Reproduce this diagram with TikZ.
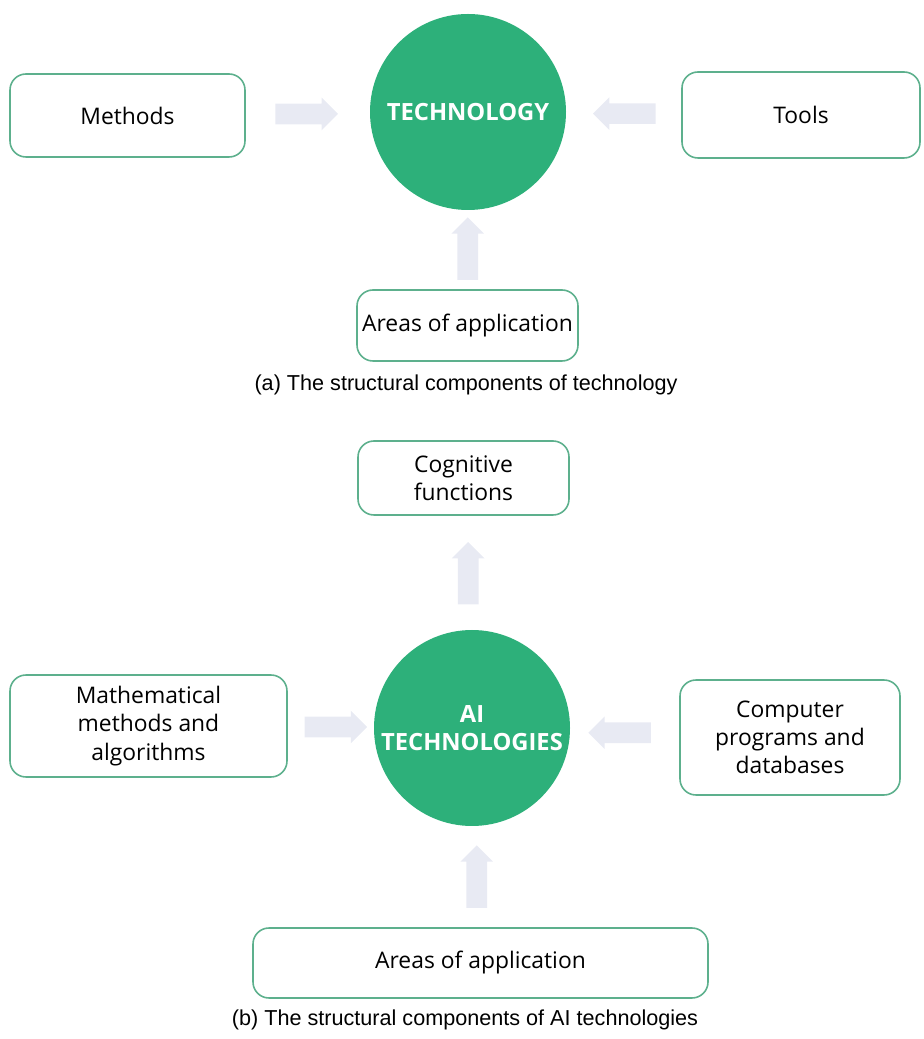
\documentclass[tikz,border=0pt]{standalone}
\usepackage{fontspec}
\setmainfont{Open Sans}
\newfontfamily\capfont{Liberation Sans}
\usetikzlibrary{shapes.arrows}
\definecolor{techgreen}{HTML}{2DB07A}
\definecolor{boxline}{HTML}{5DB08D}
\definecolor{arrowgray}{HTML}{E8EAF3}

\begin{document}
\begin{tikzpicture}[
	partbox/.style={draw=boxline, line width=0.9pt, rounded corners=0.32cm, fill=white, align=center, inner sep=0pt, font=\fontsize{13}{16}\selectfont},
	core/.style={circle, fill=techgreen, text=white, minimum size=3.92cm, inner sep=0pt, align=center, font=\fontsize{13.5}{16}\selectfont\bfseries},
	fatarrow/.style={single arrow, fill=arrowgray, draw=none, minimum height=1.25cm, minimum width=0.64cm, single arrow head extend=0.12cm, inner sep=0.2cm, shape border rotate=#1},
	caption/.style={font=\capfont\fontsize{12.3}{14}\selectfont}]
					\useasboundingbox (0,0) rectangle (18.48,20.78);
					% (a) technology
					\node[core] (tech) at (9.36,18.54) {TECHNOLOGY};
					\node[partbox, minimum width=4.7cm, minimum height=1.66cm] (meth) at (2.55,18.47) {Methods};
					\node[partbox, minimum width=4.76cm, minimum height=1.72cm] (tools) at (16.02,18.48) {Tools};
					\node[partbox, minimum width=4.42cm, minimum height=1.42cm] (areasA) at (9.35,14.27) {Areas of application};
					\node[caption] (capA) at (9.32,13.08) {(a) The structural components of technology};
					\path (meth.east) -- node[fatarrow=0, pos=0.45] {} (tech.west);
					\path (tools.west) -- node[fatarrow=180, pos=0.45] {} (tech.east);
					\path (areasA.north) -- node[fatarrow=90, pos=0.45] {} (tech.south);
					
					% (b) AI technologies
					\node[core] (aitech) at (9.44,6.22) {AI\\TECHNOLOGIES};
					\node[partbox, minimum width=4.22cm, minimum height=1.48cm] (cog) at (9.27,11.22) {Cognitive\\functions};
					\node[partbox, minimum width=5.54cm, minimum height=2.04cm] (math) at (2.97,6.26) {Mathematical\\methods and\\algorithms};
					\node[partbox, minimum width=4.4cm, minimum height=2.3cm] (prog) at (15.8,6.03) {Computer\\programs and\\databases};
					\node[partbox, minimum width=9.1cm, minimum height=1.4cm] (areasB) at (9.61,1.52) {Areas of application};
					\node[caption] (capB) at (9.3,0.38) {(b) The structural components of AI technologies};
					\path (aitech.north) -- node[fatarrow=90, pos=0.45] {} (cog.south);
					\path (math.east) -- node[fatarrow=0] {} (aitech.west);
					\path (prog.west) -- node[fatarrow=180] {} (aitech.east);
					\path (areasB.north) -- node[fatarrow=90, pos=0.45] {} (aitech.south);
				\end{tikzpicture}
\end{document}
